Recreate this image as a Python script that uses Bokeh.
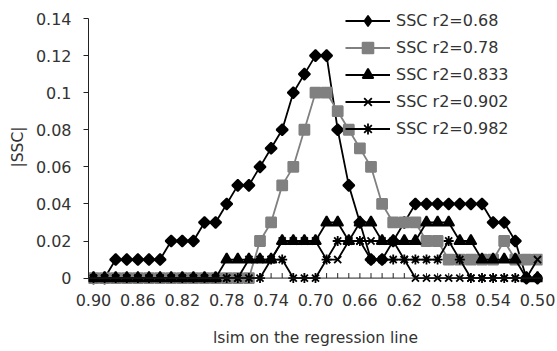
import math
from bokeh.plotting import figure
from bokeh.models import Range1d, FixedTicker, CustomJSTickFormatter, Legend, Span
from bokeh.embed import file_html
from bokeh.resources import INLINE

# x categories: Isim from 0.90 down to 0.50 step 0.01
x_vals = [round(0.90 - 0.01 * i, 2) for i in range(41)]
x_tick_labels = [0.90, 0.86, 0.82, 0.78, 0.74, 0.70, 0.66, 0.62, 0.58, 0.54, 0.50]
y_ticks = [0, 0.02, 0.04, 0.06, 0.08, 0.10, 0.12, 0.14]

ssc_068 = [0, 0, 0.01, 0.01, 0.01, 0.01, 0.01, 0.02, 0.02, 0.02,
           0.03, 0.03, 0.04, 0.05, 0.05, 0.06, 0.07, 0.08, 0.10, 0.11,
           0.12, 0.12, 0.08, 0.05, 0.03, 0.01, 0.01, 0.02, 0.03, 0.04,
           0.04, 0.04, 0.04, 0.04, 0.04, 0.04, 0.03, 0.03, 0.02, 0, 0]
ssc_078 = [0, 0, 0, 0, 0, 0, 0, 0, 0, 0,
           0, 0, 0, 0, 0, 0.02, 0.03, 0.05, 0.06, 0.08,
           0.10, 0.10, 0.09, 0.08, 0.07, 0.06, 0.04, 0.03, 0.03, 0.03,
           0.02, 0.02, 0.01, 0.01, 0.01, 0.01, 0.01, 0.02, 0.01, 0.01, 0.01]
ssc_0833 = [0, 0, 0, 0, 0, 0, 0, 0, 0, 0,
            0, 0, 0.01, 0.01, 0.01, 0.01, 0.01, 0.02, 0.02, 0.02,
            0.02, 0.03, 0.03, 0.02, 0.03, 0.03, 0.02, 0.02, 0.02, 0.02,
            0.03, 0.03, 0.03, 0.02, 0.02, 0.01, 0.01, 0.01, 0.01, 0, 0]
ssc_0902 = [0, 0, 0, 0, 0, 0, 0, 0, 0, 0,
            0, 0, 0, 0, 0.01, 0.01, 0.01, 0.02, 0.02, 0.02,
            0.02, 0.01, 0.01, 0.02, 0.02, 0.02, 0.02, 0.02, 0.01, 0,
            0, 0, 0, 0, 0, 0, 0, 0, 0, 0, 0.01]
ssc_0982 = [0, 0, 0, 0, 0, 0, 0, 0, 0, 0,
            0, 0, 0, 0, 0, 0, 0.01, 0.01, 0, 0,
            0, 0.01, 0.02, 0.02, 0.02, 0.01, 0.01, 0.01, 0.01, 0.01,
            0.01, 0.01, 0.02, 0.01, 0, 0, 0, 0, 0, 0, 0]

labels = ["SSC r2=0.68", "SSC r2=0.78", "SSC r2=0.833", "SSC r2=0.902", "SSC r2=0.982"]

FONT = "DejaVu Sans"
TXT = "#333333"
AX = "#222222"

p = figure(width=557, height=351, output_backend="svg", toolbar_location=None,
           x_range=Range1d(0.9045, 0.4955), y_range=Range1d(-0.004, 0.1454),
           min_border_top=8, min_border_right=15, min_border_left=88,
           min_border_bottom=66)
p.outline_line_color = None
p.grid.visible = False
p.background_fill_color = "white"

# y axis (line only from 0 to 0.14)
p.yaxis.ticker = FixedTicker(ticks=y_ticks)
p.yaxis.bounds = (0, 0.14)
p.yaxis.formatter = CustomJSTickFormatter(code="return String(Math.round(tick*100)/100);")
p.yaxis.major_tick_out = 5
p.yaxis.major_tick_in = 0
p.yaxis.minor_tick_out = 0
p.yaxis.minor_tick_in = 0
p.yaxis.major_label_standoff = 12
p.yaxis.axis_label = "|SSC|"
p.yaxis.axis_label_standoff = 6
p.yaxis.axis_line_color = AX
p.yaxis.major_tick_line_color = AX

# x axis: labels at the frame bottom, axis line drawn at y = 0
p.xaxis.ticker = FixedTicker(ticks=x_tick_labels)
p.xaxis.formatter = CustomJSTickFormatter(code="return tick.toFixed(2);")
p.xaxis.axis_line_color = None
p.xaxis.major_tick_line_color = None
p.xaxis.minor_tick_line_color = None
p.xaxis.major_tick_out = 0
p.xaxis.major_tick_in = 0
p.xaxis.major_label_standoff = 8
p.xaxis.axis_label = "lsim on the regression line"
p.xaxis.axis_label_standoff = 20

for ax in (p.xaxis, p.yaxis):
    ax.major_label_text_font = FONT
    ax.major_label_text_font_size = "16px"
    ax.major_label_text_color = TXT
    ax.axis_label_text_font = FONT
    ax.axis_label_text_font_size = "15.5px"
    ax.axis_label_text_font_style = "normal"
    ax.axis_label_text_color = TXT

p.add_layout(Span(location=0, dimension="width", line_color=AX, line_width=1))
# category tick marks along the x axis (pointing up)
p.segment(x0=x_vals, y0=[0] * len(x_vals), x1=x_vals, y1=[0.0027] * len(x_vals),
          line_color=AX, line_width=1)

series = [
    (ssc_068, "#000000", "square", 8, math.pi / 4, "diamond"),
    (ssc_078, "#808080", "square", 10, 0, None),
    (ssc_0833, "#000000", "triangle", 11, 0, None),
    (ssc_0902, "#000000", "x", 10, 0, None),
    (ssc_0982, "#000000", "asterisk", 10, 0, None),
]

items = []
for (vals, col, mk, sz, ang, legend_mk), lab in zip(series, labels):
    r1 = p.line(x_vals, vals, line_color=col, line_width=1.8)
    leg_marker = None
    if legend_mk:
        # narrow diamond used for the legend (legend glyphs are drawn unrotated);
        # in the plot it stays hidden under the rotated squares drawn on top
        leg_marker = p.scatter(x_vals, vals, marker=legend_mk, size=10,
                               line_color=col, fill_color=col, line_width=1.5)
    r2 = p.scatter(x_vals, vals, marker=mk, size=sz, angle=ang, line_color=col,
                   fill_color=col, line_width=1.8)
    items.append((lab, [r1, leg_marker if leg_marker is not None else r2]))

legend = Legend(items=items, location=(257, 143),
                glyph_width=45, glyph_height=27, label_height=27, spacing=0,
                padding=0, margin=0, label_standoff=6,
                label_text_font=FONT, label_text_font_size="16px",
                label_text_color=TXT,
                background_fill_alpha=0, border_line_alpha=0)
p.add_layout(legend, "center")

open("out.html", "w").write(file_html(p, INLINE))
